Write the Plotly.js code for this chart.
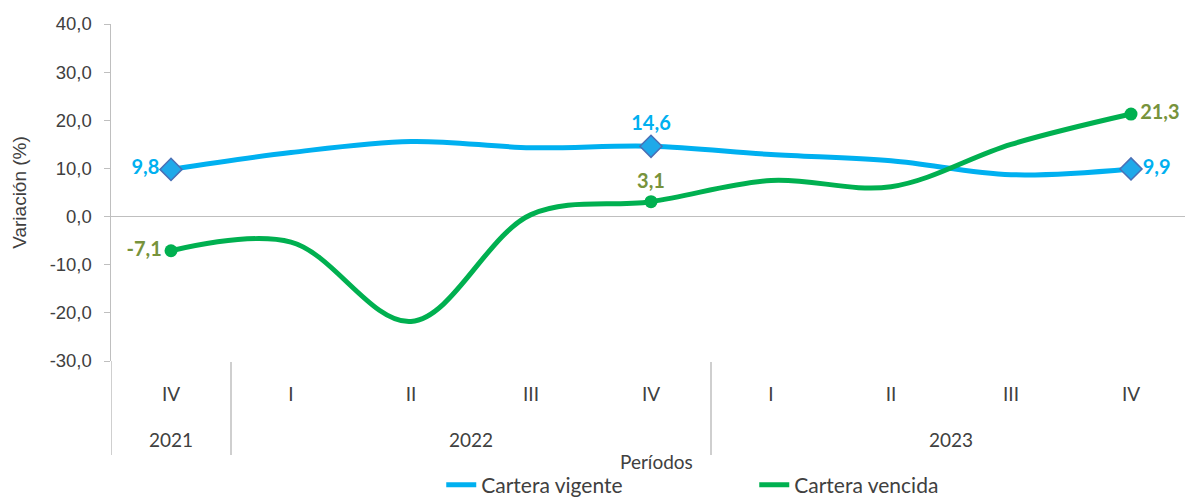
<!DOCTYPE html>
<html>
<head>
<meta charset="utf-8">
<script src="https://cdn.plot.ly/plotly-3.0.1.min.js"></script>
<style>html,body{margin:0;padding:0;background:#fff;}#chart{width:1185px;height:499px;}</style>
</head>
<body>
<div id="chart"></div>
<script>
const years = ["2021","2022","2022","2022","2022","2023","2023","2023","2023"];
const quarters = ["IV","I","II","III","IV","I","II","III","IV"];
const vigente = [9.8, 13.3, 15.6, 14.3, 14.6, 12.9, 11.6, 8.7, 9.9];
const vencida = [-7.1, -5.3, -21.8, 0.4, 3.1, 7.5, 6.2, 15.0, 21.3];
const yTicks = [-30, -20, -10, 0, 10, 20, 30, 40];
const labelIdx = [0, 4, 8];

const FONT = "Lato, 'Open Sans', sans-serif";
const YFONT = "'Liberation Sans', Arial, sans-serif";
const TXT = '#404040';
const GRID = '#bfbfbf';
const BLUE = '#00b0f0';
const GREEN = '#00b050';
const fmt = v => v.toFixed(1).replace('.', ',');
const idx = quarters.map((q, i) => i);
const labPos = ['middle left', 'top center', 'middle right'];

// year groups derived from the data
const groups = [];
years.forEach((y, i) => {
  if (!groups.length || groups[groups.length - 1].year !== y) groups.push({year: y, start: i, end: i});
  else groups[groups.length - 1].end = i;
});

const traces = [
  {
    x: idx, y: vigente, name: 'Cartera vigente', type: 'scatter', mode: 'lines',
    line: {color: BLUE, width: 5, shape: 'spline', smoothing: 1},
    hoverinfo: 'skip'
  },
  {
    x: idx, y: vencida, name: 'Cartera vencida', type: 'scatter', mode: 'lines',
    line: {color: GREEN, width: 5, shape: 'spline', smoothing: 1},
    hoverinfo: 'skip'
  },
  {
    x: labelIdx, y: labelIdx.map(i => vigente[i]), type: 'scatter', mode: 'markers+text',
    showlegend: false, cliponaxis: false, hoverinfo: 'skip',
    marker: {symbol: 'diamond', size: 17, color: '#1fa9e9', line: {color: '#4a6fb5', width: 1.5}},
    text: labelIdx.map(i => fmt(vigente[i])), textposition: labPos,
    textfont: {family: FONT, size: 20, color: BLUE, weight: 'bold'}
  },
  {
    x: labelIdx, y: labelIdx.map(i => vencida[i]), type: 'scatter', mode: 'markers+text',
    showlegend: false, cliponaxis: false, hoverinfo: 'skip',
    marker: {symbol: 'circle', size: 13, color: GREEN},
    text: labelIdx.map(i => fmt(vencida[i])), textposition: labPos,
    textfont: {family: FONT, size: 20, color: '#77933c', weight: 'bold'}
  }
];

const divBottom = -0.279;
const shapes = [{type: 'line', xref: 'x', yref: 'paper', x0: -0.5, x1: -0.5, y0: divBottom, y1: 0, line: {color: GRID, width: 1.5}}];
groups.slice(1).forEach(g => shapes.push({type: 'line', xref: 'x', yref: 'paper', x0: g.start - 0.5, x1: g.start - 0.5, y0: divBottom, y1: -0.003, line: {color: GRID, width: 1.5}}));

const annotations = groups.map(g => ({
  xref: 'x', yref: 'paper', x: (g.start + g.end) / 2, y: -0.234, text: g.year, showarrow: false,
  font: {family: FONT, size: 19, color: TXT}, xanchor: 'center', yanchor: 'middle'
}));
annotations.push({xref: 'paper', yref: 'paper', x: 0.508, y: -0.297, text: 'Períodos', showarrow: false,
  font: {family: FONT, size: 19, color: TXT}, xanchor: 'center', yanchor: 'middle'});

const layout = {
  width: 1185, height: 499,
  margin: {l: 111, r: 0, t: 24, b: 138, autoexpand: false},
  paper_bgcolor: '#fff', plot_bgcolor: '#fff',
  font: {family: FONT, size: 19, color: TXT},
  showlegend: true,
  legend: {orientation: 'h', x: 0.3075, xanchor: 'left', y: -0.368, yanchor: 'middle',
    entrywidth: 268, entrywidthmode: 'pixels', font: {family: FONT, size: 21, color: TXT}},
  xaxis: {
    type: 'linear', range: [-0.5, 8.45], showgrid: false, zeroline: false, showline: false,
    tickmode: 'array', tickvals: idx, ticktext: quarters, ticks: '',
    ticklabelstandoff: 20, tickfont: {family: FONT, size: 19, color: TXT}
  },
  yaxis: {
    range: [-30, 40], tickmode: 'array', tickvals: yTicks, ticktext: yTicks.map(fmt),
    showgrid: false, zeroline: true, zerolinecolor: GRID, zerolinewidth: 1.5,
    showline: true, linecolor: GRID, linewidth: 1.5,
    ticks: 'outside', ticklen: 6, tickcolor: GRID, ticklabelstandoff: 8,
    tickfont: {family: YFONT, size: 18.5, color: TXT},
    title: {text: 'Variación (%)', font: {family: YFONT, size: 19, color: TXT}, standoff: 18}
  },
  shapes: shapes,
  annotations: annotations
};

Plotly.newPlot('chart', traces, layout, {displayModeBar: false, staticPlot: true});
</script>
</body>
</html>
